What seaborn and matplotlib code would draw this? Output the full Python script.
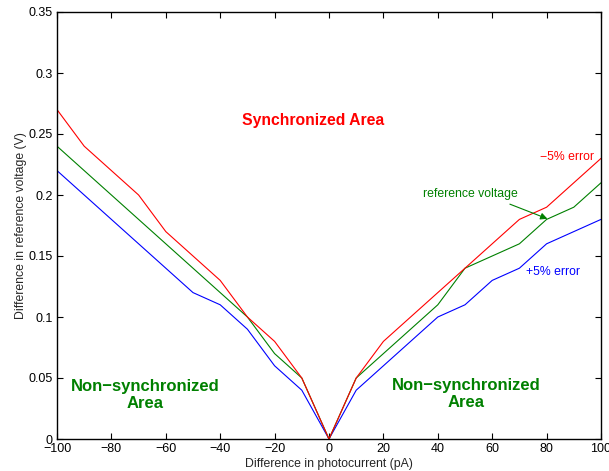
import numpy as np
import pandas as pd
import matplotlib
matplotlib.use("Agg")
import matplotlib.pyplot as plt
import seaborn as sns

x_vals = [-100, -90, -80, -70, -60, -50, -40, -30, -20, -10, 0,
          10, 20, 30, 40, 50, 60, 70, 80, 90, 100]
minus5 = [0.27, 0.24, 0.22, 0.20, 0.17, 0.15, 0.13, 0.10, 0.08, 0.05, 0.0,
          0.05, 0.08, 0.10, 0.12, 0.14, 0.16, 0.18, 0.19, 0.21, 0.23]
reference = [0.24, 0.22, 0.20, 0.18, 0.16, 0.14, 0.12, 0.10, 0.07, 0.05, 0.0,
             0.05, 0.07, 0.09, 0.11, 0.14, 0.15, 0.16, 0.18, 0.19, 0.21]
plus5 = [0.22, 0.20, 0.18, 0.16, 0.14, 0.12, 0.11, 0.09, 0.06, 0.04, 0.0,
         0.04, 0.06, 0.08, 0.10, 0.11, 0.13, 0.14, 0.16, 0.17, 0.18]
series_names = ["+5% error", "reference voltage", "-5% error"]
x_ticks = [-100, -80, -60, -40, -20, 0, 20, 40, 60, 80, 100]
y_ticks = [0, 0.05, 0.1, 0.15, 0.2, 0.25, 0.3, 0.35]

sns.set_style("ticks")
plt.rcParams['font.family'] = ['Liberation Sans', 'DejaVu Sans']
plt.rcParams['axes.unicode_minus'] = True

df = pd.DataFrame({
    "x": x_vals * 3,
    "y": plus5 + reference + minus5,
    "series": [series_names[0]] * len(x_vals) + [series_names[1]] * len(x_vals) + [series_names[2]] * len(x_vals),
})
palette = {series_names[0]: (0, 0, 1), series_names[1]: (0, 0.5, 0), series_names[2]: (1, 0, 0)}

fig = plt.figure(figsize=(6.09, 4.71), dpi=100)
ax = fig.add_axes([57 / 609, 32 / 471, 544 / 609, 427 / 471])
sns.lineplot(data=df, x="x", y="y", hue="series", palette=palette, ax=ax,
             legend=False, linewidth=0.8, estimator=None, sort=False)

ax.set_xlim(-100, 100)
ax.set_ylim(0, 0.35)
ax.set_xticks(x_ticks)
ax.set_yticks(y_ticks)
ax.set_xticklabels([f"{v}".replace("-", "\u2212") for v in x_ticks])
ax.set_yticklabels(["0" if v == 0 else f"{v:g}" for v in y_ticks])
ax.tick_params(direction="in", top=True, right=True, length=4, width=0.8,
               labelsize=9, pad=3, colors="black")
for s in ax.spines.values():
    s.set_visible(True)
    s.set_linewidth(1.0)
    s.set_color("black")
ax.set_xlabel("Difference in photocurrent (pA)", fontsize=8.8, labelpad=2)
ax.set_ylabel("Difference in reference voltage (V)", fontsize=8.8, labelpad=1)

green = (0, 0.5, 0)
ax.text(-6, 0.261, "Synchronized Area", color="red", fontsize=11.3,
        fontweight="bold", ha="center", va="center")
ax.text(-67.6, 0.036, "Non\u2212synchronized\nArea", color=green, fontsize=12,
        fontweight="bold", ha="center", va="center", linespacing=1.2)
ax.text(50.4, 0.037, "Non\u2212synchronized\nArea", color=green, fontsize=12,
        fontweight="bold", ha="center", va="center", linespacing=1.2)
ax.text(87.5, 0.231, "\u22125% error", color="red", fontsize=8.8,
        ha="center", va="center")
ax.text(82.4, 0.137, "+5% error", color="blue", fontsize=8.8,
        ha="center", va="center")
ax.text(51.8, 0.2005, "reference voltage", color=green, fontsize=8.8,
        ha="center", va="center")
ax.annotate("", xy=(80.3, 0.1805), xytext=(66.5, 0.1925),
            arrowprops=dict(arrowstyle="-|>", color=green, lw=0.8,
                            mutation_scale=10, shrinkA=0, shrinkB=0))

fig.savefig("out.png", dpi=100)
